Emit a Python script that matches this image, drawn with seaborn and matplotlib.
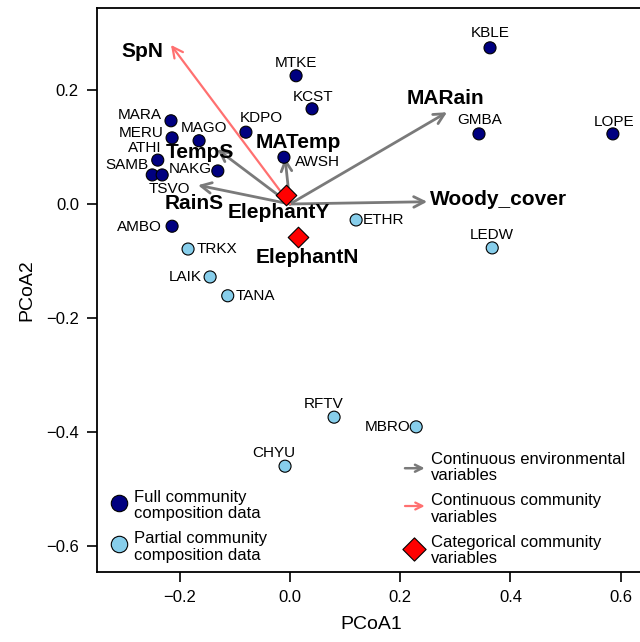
import numpy as np
import pandas as pd
import matplotlib
matplotlib.use("Agg")
import matplotlib.pyplot as plt
import seaborn as sns

# ---------------- data ----------------
site_names = ["KBLE", "MTKE", "KCST", "LOPE", "GMBA", "MARA", "MERU", "MAGO",
              "KDPO", "AWSH", "ATHI", "NAKG", "SAMB", "TSVO", "AMBO",
              "ETHR", "LEDW", "TRKX", "LAIK", "TANA", "RFTV", "MBRO", "CHYU"]
site_x = [0.363, 0.011, 0.040, 0.586, 0.343, -0.216, -0.214, -0.165,
          -0.080, -0.011, -0.240, -0.131, -0.250, -0.232, -0.214,
          0.120, 0.367, -0.185, -0.145, -0.113, 0.080, 0.229, -0.009]
site_y = [0.274, 0.225, 0.167, 0.123, 0.123, 0.146, 0.116, 0.111,
          0.126, 0.082, 0.077, 0.058, 0.051, 0.051, -0.039,
          -0.028, -0.077, -0.079, -0.128, -0.161, -0.374, -0.391, -0.460]
site_group = ["Full"] * 15 + ["Partial"] * 8

env_names = ["TempS", "RainS", "MATemp", "MARain", "Woody_cover"]
env_x = [-0.132, -0.167, -0.009, 0.285, 0.249]
env_y = [0.096, 0.033, 0.081, 0.161, 0.004]

comm_names = ["SpN"]
comm_x = [-0.216]
comm_y = [0.279]

cat_names = ["ElephantY", "ElephantN"]
cat_x = [-0.007, 0.015]
cat_y = [0.016, -0.058]

legend_left = ["Full community\ncomposition data", "Partial community\ncomposition data"]
legend_right = ["Continuous environmental\nvariables", "Continuous community\nvariables",
                "Categorical community\nvariables"]

# ---------------- layout (label placement, pixels) ----------------
site_lab = {"KBLE": ("center", 0, 15), "MTKE": ("center", 0, 13), "KCST": ("center", 1, 12),
            "LOPE": ("center", 1, 12), "GMBA": ("center", 1, 14), "MARA": ("right", -9, 6),
            "MERU": ("right", -8, 5), "MAGO": ("center", 5, 13), "KDPO": ("center", 15, 14),
            "AWSH": ("left", 11, -5), "ATHI": ("right", 4, 12), "NAKG": ("right", -6, 2),
            "SAMB": ("right", -4, 10), "TSVO": ("center", 7, -14), "AMBO": ("right", -10, -1),
            "ETHR": ("left", 7, 0), "LEDW": ("center", 0, 13), "TRKX": ("left", 9, 0),
            "LAIK": ("right", -8, 0), "TANA": ("left", 8, 0), "RFTV": ("center", -10, 13),
            "MBRO": ("right", -6, 0), "CHYU": ("center", -11, 13)}
vec_lab = {"SpN": ("center", -29, -7), "TempS": ("center", -17, -3), "RainS": ("center", -4, -18),
           "MATemp": ("center", 13, 15), "MARain": ("center", -2, 14),
           "Woody_cover": ("left", 3, 2), "ElephantY": ("center", -7, -18),
           "ElephantN": ("center", 9, -20)}

NAVY = "#000080"
SKY = "#87CEEB"
GREY = "#7a7a7a"
SALMON = "#ff7070"

sns.set_style("ticks")
plt.rcParams["font.family"] = ["Liberation Sans", "DejaVu Sans"]
plt.rcParams["axes.linewidth"] = 1.3
plt.rcParams["text.color"] = "black"
plt.rcParams["axes.labelcolor"] = "black"
plt.rcParams["xtick.color"] = "black"
plt.rcParams["ytick.color"] = "black"

fig = plt.figure(figsize=(6.4, 6.42), dpi=100)
ax = fig.add_axes([97 / 640, (642 - 572) / 642, (645 - 97) / 640, (572 - 8) / 642])

# arrows
for n, x, y in zip(env_names, env_x, env_y):
    ax.annotate("", xy=(x, y), xytext=(0, 0),
                arrowprops=dict(arrowstyle="->,head_length=0.75,head_width=0.38",
                                color=GREY, lw=2.0, shrinkA=0, shrinkB=0))
for n, x, y in zip(comm_names, comm_x, comm_y):
    ax.annotate("", xy=(x, y), xytext=(0, 0),
                arrowprops=dict(arrowstyle="->,head_length=0.75,head_width=0.38",
                                color=SALMON, lw=1.6, shrinkA=0, shrinkB=0))

sites = pd.DataFrame({"name": site_names, "x": site_x, "y": site_y, "group": site_group})
sns.scatterplot(data=sites, x="x", y="y", hue="group", palette={"Full": NAVY, "Partial": SKY},
                s=75, edgecolor="black", linewidth=0.8, legend=False, ax=ax, zorder=3)

cats = pd.DataFrame({"name": cat_names, "x": cat_x, "y": cat_y})
sns.scatterplot(data=cats, x="x", y="y", marker="D", color="red", s=110,
                edgecolor="black", linewidth=0.8, legend=False, ax=ax, zorder=4)

# site labels
for n, x, y in zip(site_names, site_x, site_y):
    ha, dx, dy = site_lab[n]
    ax.annotate(n, (x, y), xytext=(dx, dy), textcoords="offset pixels",
                ha=ha, va="center", fontsize=11, color="black", zorder=5)

# vector labels
for names, xs, ys in [(env_names, env_x, env_y), (comm_names, comm_x, comm_y),
                      (cat_names, cat_x, cat_y)]:
    for n, x, y in zip(names, xs, ys):
        ha, dx, dy = vec_lab[n]
        ax.annotate(n, (x, y), xytext=(dx, dy), textcoords="offset pixels",
                    ha=ha, va="center", fontsize=15, fontweight="bold",
                    color="black", zorder=6)

# legends (manual)
T = ax.transAxes
ax.scatter([0.040], [0.122], s=140, color=NAVY, edgecolor="black", linewidth=0.8,
           transform=T, clip_on=False, zorder=5)
ax.scatter([0.040], [0.050], s=140, color=SKY, edgecolor="black", linewidth=0.8,
           transform=T, clip_on=False, zorder=5)
ax.text(0.0675, 0.118, legend_left[0], transform=T, fontsize=12, va="center",
        ha="left", linespacing=1.12)
ax.text(0.0675, 0.044, legend_left[1], transform=T, fontsize=12, va="center",
        ha="left", linespacing=1.12)

ax.annotate("", xy=(0.598, 0.184), xytext=(0.562, 0.184), xycoords=T, textcoords=T,
            arrowprops=dict(arrowstyle="->,head_length=0.5,head_width=0.25",
                            color=GREY, lw=1.8, shrinkA=0, shrinkB=0))
ax.annotate("", xy=(0.598, 0.117), xytext=(0.562, 0.117), xycoords=T, textcoords=T,
            arrowprops=dict(arrowstyle="->,head_length=0.5,head_width=0.25",
                            color=SALMON, lw=1.6, shrinkA=0, shrinkB=0))
ax.scatter([0.578], [0.041], s=140, marker="D", color="red", edgecolor="black",
           linewidth=0.8, transform=T, clip_on=False, zorder=5)
for fy, t in zip([0.185, 0.112, 0.038], legend_right):
    ax.text(0.609, fy, t, transform=T, fontsize=12, va="center", ha="left", linespacing=1.12)

ax.set_xlim((97 - 290) / 551, (645 - 290) / 551)
ax.set_ylim((204 - 572) / 570, (204 - 8) / 570)
ax.set_xticks([-0.2, 0.0, 0.2, 0.4, 0.6])
ax.set_yticks([0.2, 0.0, -0.2, -0.4, -0.6])
ax.set_xticklabels(["\u22120.2", "0.0", "0.2", "0.4", "0.6"])
ax.set_yticklabels(["0.2", "0.0", "\u22120.2", "\u22120.4", "\u22120.6"])
ax.tick_params(direction="out", length=7, width=1.2, labelsize=12, pad=6, colors="black")
ax.set_xlabel("PCoA1", fontsize=14, labelpad=8)
ax.set_ylabel("PCoA2", fontsize=14, labelpad=8)
for s in ax.spines.values():
    s.set_visible(True)
    s.set_color("black")

fig.savefig("out.png", dpi=100)
